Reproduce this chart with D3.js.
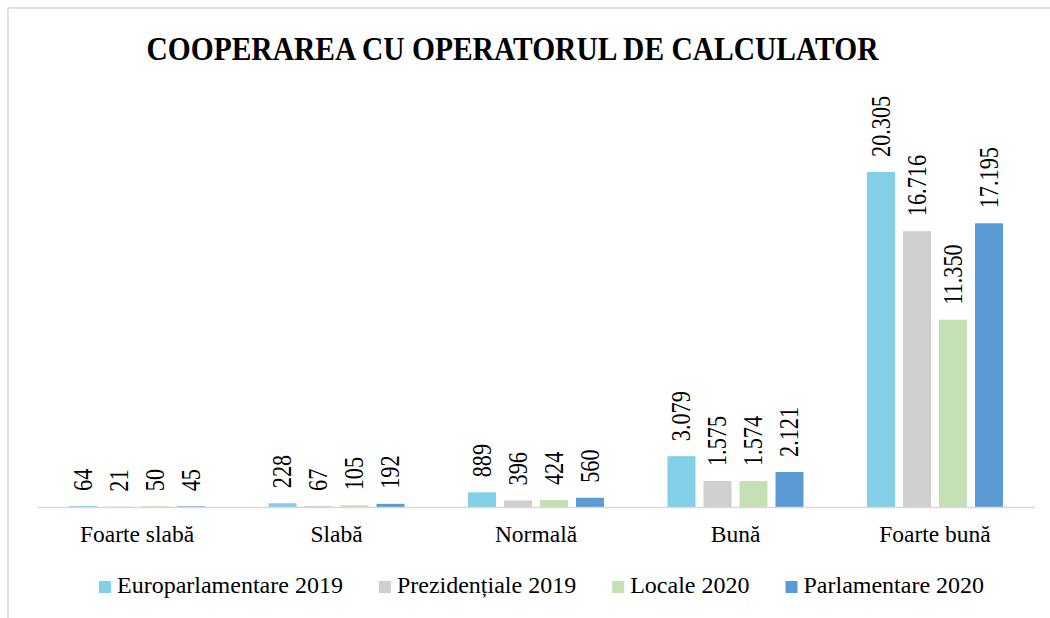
<!DOCTYPE html>
<html>
<head>
<meta charset="utf-8">
<script src="https://cdn.jsdelivr.net/npm/d3@7"></script>
<style>
  html, body { margin: 0; padding: 0; background: #ffffff; }
  svg { display: block; }
  text { font-family: "Liberation Serif", "Times New Roman", serif; fill: #000; }
</style>
</head>
<body>
<svg id="chart" width="1050" height="618"></svg>
<script>
const title = "COOPERAREA CU OPERATORUL DE CALCULATOR";
const categories = ["Foarte slabă", "Slabă", "Normală", "Bună", "Foarte bună"];
const seriesNames = ["Europarlamentare 2019", "Prezidențiale 2019", "Locale 2020", "Parlamentare 2020"];
const europarlamentare2019 = [64, 228, 889, 3079, 20305];
const prezidentiale2019 = [21, 67, 396, 1575, 16716];
const locale2020 = [50, 105, 424, 1574, 11350];
const parlamentare2020 = [45, 192, 560, 2121, 17195];
const seriesValues = [europarlamentare2019, prezidentiale2019, locale2020, parlamentare2020];
const colors = ["#83CFE8", "#D0CECE", "#C5E0B4", "#5B9BD5"];
const yMax = 25000;

const svg = d3.select("#chart");
const W = 1050, H = 618;

// chart border
svg.append("rect")
  .attr("x", 8).attr("y", 8)
  .attr("width", W + 20).attr("height", H + 20)
  .attr("fill", "none").attr("stroke", "#D9D9D9").attr("stroke-width", 1.5);

// title
svg.append("text")
  .attr("x", 146.5).attr("y", 60)
  .attr("font-size", 33).attr("font-weight", "bold")
  .attr("textLength", 732).attr("lengthAdjust", "spacingAndGlyphs")
  .text(title);

const plot = { left: 37.25, right: 1034.75, top: 94.5, bottom: 507 };

const x0 = d3.scaleBand().domain(categories).range([plot.left, plot.right]).paddingInner(0).paddingOuter(0);
const groupW = 136;
const x1 = d3.scaleBand().domain(d3.range(seriesNames.length))
  .range([(x0.bandwidth() - groupW) / 2, (x0.bandwidth() + groupW) / 2])
  .paddingInner(8 / 36).paddingOuter(0);
const y = d3.scaleLinear().domain([0, yMax]).range([plot.bottom, plot.top]);

const locale = d3.formatLocale({ decimal: ",", thousands: ".", grouping: [3], currency: ["", ""] });
const fmt = locale.format(",d");

const data = [];
categories.forEach((c, ci) => {
  seriesValues.forEach((vals, si) => {
    data.push({ cat: c, si: si, v: vals[ci] });
  });
});

// bars
svg.append("g").selectAll("rect").data(data).join("rect")
  .attr("x", d => x0(d.cat) + x1(d.si))
  .attr("y", d => y(d.v))
  .attr("width", x1.bandwidth())
  .attr("height", d => y(0) - y(d.v))
  .attr("fill", d => colors[d.si]);

// baseline (category axis)
const xAxis = d3.axisBottom(x0).tickSize(0).tickPadding(0);
const gx = svg.append("g").attr("transform", `translate(0,${plot.bottom})`).call(xAxis);
gx.select(".domain").attr("stroke", "#D9D9D9").attr("stroke-width", 1.5);
gx.selectAll(".tick text")
  .attr("y", 35).attr("dy", 0)
  .attr("font-size", 23.5)
  .attr("font-family", "'Liberation Serif', 'Times New Roman', serif")
  .attr("fill", "#000");

// value labels (rotated)
svg.append("g").selectAll("g").data(data).join("g")
  .attr("transform", d => `translate(${x0(d.cat) + x1(d.si) + x1.bandwidth() / 2},${y(d.v) - 15}) rotate(-90)`)
  .append("text")
  .attr("transform", "scale(0.84,1)")
  .attr("font-size", 26.5)
  .attr("dy", "0.33em")
  .attr("text-anchor", "start")
  .text(d => fmt(d.v));

// legend
const legend = svg.append("g").attr("class", "legend");
let lx = 99;
seriesNames.forEach((name, i) => {
  const g = legend.append("g").attr("transform", `translate(${lx},0)`);
  g.append("rect").attr("x", 0).attr("y", 581).attr("width", 12).attr("height", 12).attr("fill", colors[i]);
  const t = g.append("text").attr("x", 18).attr("y", 593).attr("font-size", 24).text(name);
  const tw = t.node().getComputedTextLength();
  lx += 18 + tw + 36;
});
</script>
</body>
</html>
